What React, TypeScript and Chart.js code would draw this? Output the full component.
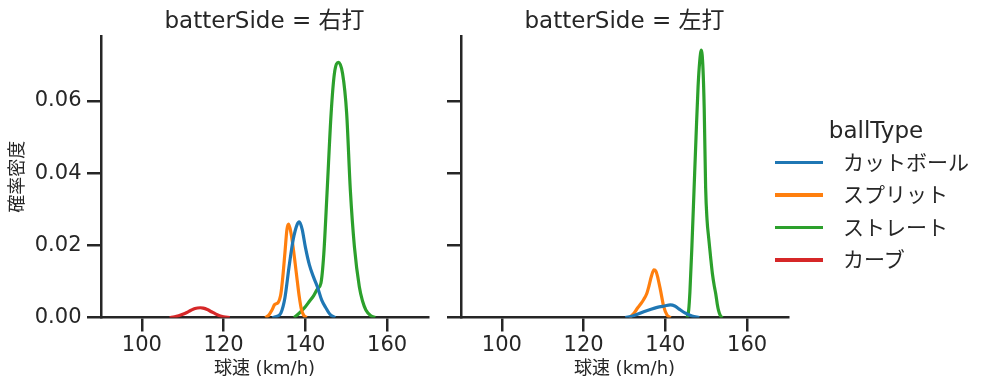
import React, { useEffect, useRef } from 'react';
import { Chart, registerables } from 'chart.js';
Chart.register(...registerables);

// ---------- data ----------
const BALL_TYPES = ['カットボール', 'スプリット', 'ストレート', 'カーブ'];
const COLORS = ['#1f77b4', '#ff7f0e', '#2ca02c', '#d62728'];
const PANEL_TITLES = ['batterSide = 右打', 'batterSide = 左打'];
const X_TICKS = [100, 120, 140, 160];
const Y_TICKS = [0, 0.02, 0.04, 0.06];
const X_MIN = 90;
const X_MAX = 170;
const Y_MAX = 0.078;

// 右打
const R_CUT_X = [131.9, 133, 134, 135, 136, 137, 138, 138.5, 139.2, 140, 141, 142, 143, 144, 145, 146, 147.3];
const R_CUT_Y = [0, 0.0003, 0.0012, 0.0055, 0.014, 0.0215, 0.0258, 0.0265, 0.0245, 0.0195, 0.0145, 0.0112, 0.0083, 0.0048, 0.0027, 0.0009, 0];
const R_SPL_X = [130.2, 131.0, 131.8, 132.5, 133.3, 134.0, 134.5, 135.0, 135.5, 135.9, 136.5, 137.0, 137.5, 138.0, 138.5, 139.0, 139.6, 140.3];
const R_SPL_Y = [0, 0.0006, 0.0020, 0.0036, 0.0041, 0.0065, 0.0115, 0.018, 0.0245, 0.0259, 0.0233, 0.0195, 0.015, 0.0103, 0.0058, 0.0024, 0.0006, 0];
const R_STR_X = [137.2, 138, 139, 140, 141, 142, 143, 143.8, 144.5, 145.3, 146.3, 147.1, 148.1, 149.1, 150.1, 151.0, 152.0, 153.2, 154.0, 154.8, 156, 157.1];
const R_STR_Y = [0, 0.0007, 0.0018, 0.003, 0.0045, 0.006, 0.008, 0.0095, 0.0175, 0.0345, 0.0566, 0.0676, 0.0707, 0.0676, 0.0566, 0.0353, 0.0196, 0.0085, 0.0045, 0.0021, 0.0005, 0];
const R_CRV_X = [106.8, 108, 109, 110, 111, 112, 113, 114.3, 115, 116, 117, 118, 119, 120, 121.5];
const R_CRV_Y = [0, 0.0002, 0.0005, 0.0009, 0.0014, 0.002, 0.0025, 0.0027, 0.0026, 0.0022, 0.0016, 0.001, 0.0005, 0.0002, 0];

// 左打
const L_CUT_X = [130.2, 132.0, 134.7, 136.5, 138.0, 139.8, 141.2, 142.3, 143.3, 144.9, 146.5, 148.3];
const L_CUT_Y = [0, 0.0004, 0.0016, 0.0023, 0.0028, 0.0032, 0.0035, 0.0032, 0.0024, 0.0012, 0.0004, 0];
const L_SPL_X = [131.2, 132.2, 133.1, 134.0, 134.7, 135.4, 136.0, 136.6, 137.2, 137.7, 138.2, 138.8, 139.6, 140.4, 141.3];
const L_SPL_Y = [0, 0.001, 0.0025, 0.0038, 0.005, 0.0065, 0.0088, 0.0115, 0.0132, 0.0128, 0.0108, 0.0076, 0.003, 0.0007, 0];
const L_STR_X = [145.3, 145.7, 146.0, 146.5, 147.0, 147.5, 148.0, 148.4, 148.8, 149.2, 149.5, 149.85, 150.2, 150.6, 151.06, 151.5, 152.0, 152.3, 152.7, 153.0, 153.5, 154.0];
const L_STR_Y = [0, 0.002, 0.007, 0.02, 0.035, 0.05, 0.064, 0.071, 0.0741, 0.069, 0.058, 0.036, 0.027, 0.022, 0.0168, 0.0122, 0.0085, 0.0067, 0.0037, 0.002, 0.0004, 0];

const X_LABEL = '球速 (km/h)';
const Y_LABEL = '確率密度';
const LEGEND_TITLE = 'ballType';

// ---------- styling ----------
const FONT = '"DejaVu Sans", "Noto Sans CJK JP", sans-serif';
const INK = '#262626';
const AXIS_W = 2.5;
const TICK_LEN = 14;

type Series = { xs: number[]; ys: number[] };

const RIGHT_SERIES: Series[] = [
  { xs: R_CUT_X, ys: R_CUT_Y },
  { xs: R_SPL_X, ys: R_SPL_Y },
  { xs: R_STR_X, ys: R_STR_Y },
  { xs: R_CRV_X, ys: R_CRV_Y },
];
const LEFT_SERIES: Series[] = [
  { xs: L_CUT_X, ys: L_CUT_Y },
  { xs: L_SPL_X, ys: L_SPL_Y },
  { xs: L_STR_X, ys: L_STR_Y },
];

function Panel(props: {
  left: number;
  width: number;
  title: string;
  series: Series[];
  yAxisWidth: number;
  padRight: number;
  showYLabels: boolean;
}) {
  const ref = useRef<HTMLCanvasElement>(null);
  useEffect(() => {
    const { series, title, yAxisWidth, padRight, showYLabels } = props;
    const chart = new Chart(ref.current as HTMLCanvasElement, {
      type: 'line',
      data: {
        datasets: series.map((s, i) => ({
          label: BALL_TYPES[i],
          data: s.xs.map((x, j) => ({ x, y: s.ys[j] })),
          borderColor: COLORS[i],
          backgroundColor: COLORS[i],
          borderWidth: 3.2,
          pointRadius: 0,
          cubicInterpolationMode: 'monotone' as const,
          fill: false,
        })),
      },
      options: {
        animation: false,
        responsive: false,
        maintainAspectRatio: false,
        events: [],
        layout: { padding: { left: 0, top: 0, bottom: 0, right: padRight } },
        plugins: {
          legend: { display: false },
          tooltip: { enabled: false },
          title: {
            display: true,
            text: title,
            fullSize: false,
            color: INK,
            font: { family: FONT, size: 23, weight: 'normal' },
            padding: { top: 8.5, bottom: 0 },
          },
        },
        scales: {
          x: {
            type: 'linear',
            min: X_MIN,
            max: X_MAX,
            afterBuildTicks: (s: any) => {
              s.ticks = X_TICKS.map((v) => ({ value: v }));
            },
            afterFit: (s: any) => {
              s.height = 73.5;
            },
            ticks: {
              color: INK,
              font: { family: FONT, size: 21 },
              padding: 1,
              maxRotation: 0,
              callback: (v: any) => String(v),
            },
            grid: {
              drawOnChartArea: false,
              drawTicks: true,
              tickLength: TICK_LEN,
              color: INK,
              lineWidth: AXIS_W,
            },
            border: { display: true, color: INK, width: AXIS_W },
            title: {
              display: true,
              text: X_LABEL,
              color: INK,
              font: { family: FONT, size: 18 },
              padding: { top: 0, bottom: 11 },
            },
          },
          y: {
            type: 'linear',
            min: 0,
            max: Y_MAX,
            afterBuildTicks: (s: any) => {
              s.ticks = Y_TICKS.map((v) => ({ value: v }));
            },
            afterFit: (s: any) => {
              s.width = yAxisWidth;
            },
            ticks: {
              color: INK,
              font: { family: FONT, size: 21 },
              padding: 5.5,
              callback: (v: any) => (showYLabels ? Number(v).toFixed(2) : ''),
            },
            grid: {
              drawOnChartArea: false,
              drawTicks: true,
              tickLength: TICK_LEN,
              color: INK,
              lineWidth: AXIS_W,
            },
            border: { display: true, color: INK, width: AXIS_W },
            title: {
              display: showYLabels,
              text: Y_LABEL,
              color: INK,
              font: { family: FONT, size: 18 },
              padding: { top: 7.7, bottom: 0 },
            },
          },
        },
      },
    } as any);
    return () => chart.destroy();
  }, []);
  return (
    <canvas
      ref={ref}
      width={props.width}
      height={391}
      style={{ position: 'absolute', left: props.left, top: 0, width: props.width, height: 391 }}
    />
  );
}

function Legend() {
  const rowY = [162.7, 195, 227.7, 260];
  return (
    <div style={{ position: 'absolute', left: 0, top: 0, width: 997, height: 391, pointerEvents: 'none', fontFamily: FONT, color: INK }}>
      <div
        style={{
          position: 'absolute',
          left: 776,
          width: 200,
          top: 130 - 15,
          height: 30,
          lineHeight: '30px',
          fontSize: 23,
          textAlign: 'center',
          whiteSpace: 'nowrap',
        }}
      >
        {LEGEND_TITLE}
      </div>
      {BALL_TYPES.map((name, i) => (
        <React.Fragment key={name}>
          <div
            style={{
              position: 'absolute',
              left: 775,
              top: rowY[i] - 1.6,
              width: 48,
              height: 3.2,
              background: COLORS[i],
            }}
          />
          <div
            style={{
              position: 'absolute',
              left: 843,
              top: rowY[i] - 15,
              height: 30,
              lineHeight: '30px',
              fontSize: 21,
              whiteSpace: 'nowrap',
            }}
          >
            {name}
          </div>
        </React.Fragment>
      ))}
    </div>
  );
}

export default function App() {
  return (
    <div style={{ position: 'absolute', left: 0, top: 0, width: 997, height: 391, background: '#fff', overflow: 'hidden' }}>
      <Panel left={0} width={440} title={PANEL_TITLES[0]} series={RIGHT_SERIES} yAxisWidth={101} padRight={12} showYLabels={true} />
      <Panel left={440} width={557} title={PANEL_TITLES[1]} series={LEFT_SERIES} yAxisWidth={21} padRight={209} showYLabels={false} />
      <Legend />
    </div>
  );
}
